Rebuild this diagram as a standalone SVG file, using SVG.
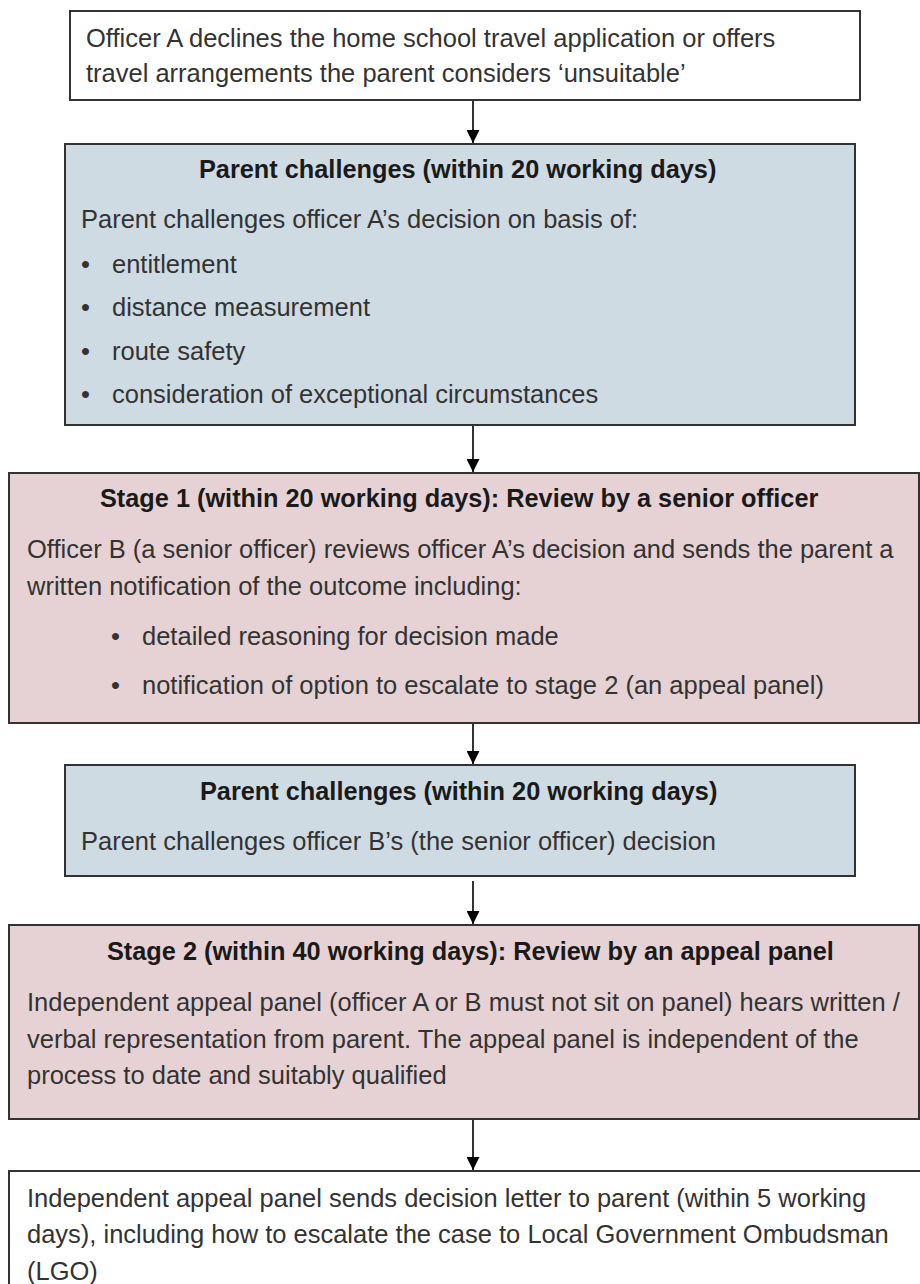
<svg xmlns="http://www.w3.org/2000/svg" width="920" height="1284" viewBox="0 0 920 1284">
<style>
  .box { stroke: #333333; stroke-width: 2; }
  .white { fill: #FFFFFF; }
  .blue { fill: #CFDBE3; }
  .pink { fill: #E6D2D4; }
  text { font-family: "Liberation Sans", Arial, sans-serif; font-size: 25.5px; fill: #333333; }
  .title { font-weight: bold; fill: #1a1a1a; font-size: 25.3px; }
  .conn line { stroke: #000000; stroke-width: 1.6; }
</style>
<defs>
  <marker id="arrow" viewBox="0 0 10 10" refX="10" refY="5" markerWidth="13" markerHeight="13" markerUnits="userSpaceOnUse" orient="auto">
    <path d="M0,0 L10,5 L0,10 Z" fill="#000000"/>
  </marker>
</defs>
<rect width="920" height="1284" fill="#FFFFFF"/>

<g id="connectors" class="conn">
  <line x1="473" y1="101" x2="473" y2="143" marker-end="url(#arrow)"/>
  <line x1="473" y1="426" x2="473" y2="472" marker-end="url(#arrow)"/>
  <line x1="473" y1="724" x2="473" y2="764" marker-end="url(#arrow)"/>
  <line x1="473" y1="881" x2="473" y2="924" marker-end="url(#arrow)"/>
  <line x1="473" y1="1120" x2="473" y2="1170" marker-end="url(#arrow)"/>
</g>

<g id="node-officer-a">
  <rect class="box white" x="70" y="11" width="790" height="89"/>
  <text x="86" y="46.5">Officer A declines the home school travel application or offers</text>
  <text x="86" y="81.5">travel arrangements the parent considers ‘unsuitable’</text>
</g>

<g id="node-parent-challenges-1">
  <rect class="box blue" x="65" y="144" width="790" height="281"/>
  <text class="title" x="199" y="177.5">Parent challenges (within 20 working days)</text>
  <text x="81" y="228">Parent challenges officer A’s decision on basis of:</text>
  <text x="81" y="272.5">•</text><text x="112" y="272.5">entitlement</text>
  <text x="81" y="316">•</text><text x="112" y="316">distance measurement</text>
  <text x="81" y="359.5">•</text><text x="112" y="359.5">route safety</text>
  <text x="81" y="403">•</text><text x="112" y="403">consideration of exceptional circumstances</text>
</g>

<g id="node-stage-1">
  <rect class="box pink" x="9" y="473" width="910" height="250"/>
  <text class="title" x="100" y="507">Stage 1 (within 20 working days): Review by a senior officer</text>
  <text x="27" y="558">Officer B (a senior officer) reviews officer A’s decision and sends the parent a</text>
  <text x="27" y="595">written notification of the outcome including:</text>
  <text x="111" y="645">•</text><text x="142" y="645">detailed reasoning for decision made</text>
  <text x="111" y="694">•</text><text x="142" y="694">notification of option to escalate to stage 2 (an appeal panel)</text>
</g>

<g id="node-parent-challenges-2">
  <rect class="box blue" x="65" y="765" width="790" height="111"/>
  <text class="title" x="200" y="800">Parent challenges (within 20 working days)</text>
  <text x="81" y="850">Parent challenges officer B’s (the senior officer) decision</text>
</g>

<g id="node-stage-2">
  <rect class="box pink" x="9" y="925" width="910" height="194"/>
  <text class="title" x="107" y="960">Stage 2 (within 40 working days): Review by an appeal panel</text>
  <text x="27" y="1011">Independent appeal panel (officer A or B must not sit on panel) hears written /</text>
  <text x="27" y="1048">verbal representation from parent. The appeal panel is independent of the</text>
  <text x="27" y="1084">process to date and suitably qualified</text>
</g>

<g id="node-decision-letter">
  <rect class="box white" x="9" y="1171" width="912" height="130"/>
  <text x="27" y="1207">Independent appeal panel sends decision letter to parent (within 5 working</text>
  <text x="27" y="1243">days), including how to escalate the case to Local Government Ombudsman</text>
  <text x="27" y="1280">(LGO)</text>
</g>
</svg>
